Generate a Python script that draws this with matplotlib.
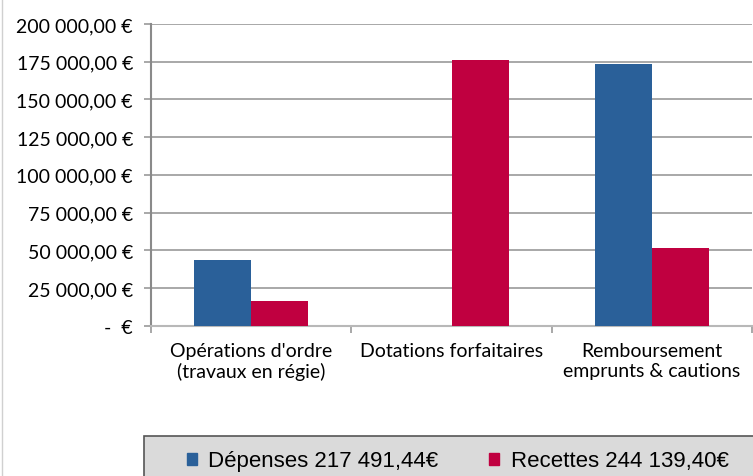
import numpy as np
import matplotlib
matplotlib.use('Agg')
import matplotlib.pyplot as plt
from matplotlib.ticker import FuncFormatter, FixedLocator
from matplotlib.patches import Rectangle, Patch

# Data
categories = ["Opérations d'ordre\n(travaux en régie)",
              "Dotations forfaitaires",
              "Remboursement\nemprunts & cautions"]
depenses = [43800.00, 0.00, 173691.44]
recettes = [16400.00, 176200.00, 51539.40]
legend_labels = ["Dépenses 217 491,44€", "Recettes 244 139,40€"]
y_ticks = [0, 25000, 50000, 75000, 100000, 125000, 150000, 175000, 200000]

blue = '#2a6099'
red = '#c00040'
grid_col = '#9a9a9a'

def euro(v, pos=None):
    if v == 0:
        return '-  €'
    s = f'{v:,.2f}'.replace(',', ' ').replace('.', ',')
    return s + ' €'

W, H = 753, 477
fig = plt.figure(figsize=(W / 100, H / 100), dpi=100)
ax = fig.add_axes([151 / W, 1 - 326.7 / H, (752 - 151) / W, (326.7 - 25) / H])

x = np.arange(len(categories))
bw = 0.285
ax.bar(x - bw / 2, depenses, bw, color=blue, zorder=3)
ax.bar(x + bw / 2, recettes, bw, color=red, zorder=3)

ax.set_xlim(-0.5, len(categories) - 0.5)
ax.set_ylim(0, 200000)

# y axis
ax.yaxis.set_major_locator(FixedLocator(y_ticks))
ax.yaxis.set_major_formatter(FuncFormatter(euro))
ax.tick_params(axis='y', length=5, width=1.2, color=grid_col, pad=8,
               labelsize=14, labelcolor='#000000')
ax.grid(axis='y', color=grid_col, linewidth=1.2, zorder=0)

# x axis: ticks at boundaries, labels centred
ax.set_xticks(np.arange(len(categories) + 1) - 0.5)
ax.set_xticklabels([])
ax.set_xticks(x, minor=True)
ax.set_xticklabels(categories, minor=True)
ax.tick_params(axis='x', which='major', length=5, width=1.2, color=grid_col)
ax.tick_params(axis='x', which='minor', length=0, pad=12, labelsize=14)

for lbl in ax.get_xticklabels(minor=True) + ax.get_yticklabels():
    lbl.set_family('Lato')

ax.spines['top'].set_visible(False)
ax.spines['right'].set_visible(False)
ax.spines['left'].set_color('#8a8a8a')
ax.spines['left'].set_linewidth(1.5)
ax.spines['bottom'].set_color('#b8b8b8')
ax.spines['bottom'].set_linewidth(1.5)

# legend box
fig.patches.append(Rectangle((144 / W, -0.05), 1, 0.05 + (477 - 437) / H,
                             transform=fig.transFigure, facecolor='#dadada',
                             edgecolor='#555555', linewidth=1.2))
handles = [Patch(color=blue), Patch(color=red)]
fig.legend(handles, legend_labels, ncol=2, loc='center left',
           bbox_to_anchor=(176 / W, 1 - 462 / H), frameon=False,
           prop={'family': 'Liberation Sans', 'size': 16},
           handlelength=0.45, handleheight=0.45, handletextpad=0.5,
           columnspacing=2.3, borderpad=0)

# faint left border
fig.add_artist(plt.Line2D([2 / W, 2 / W], [0, 1], transform=fig.transFigure,
                          color='#d0d0d0', linewidth=1))

fig.savefig('out.png', dpi=100)
